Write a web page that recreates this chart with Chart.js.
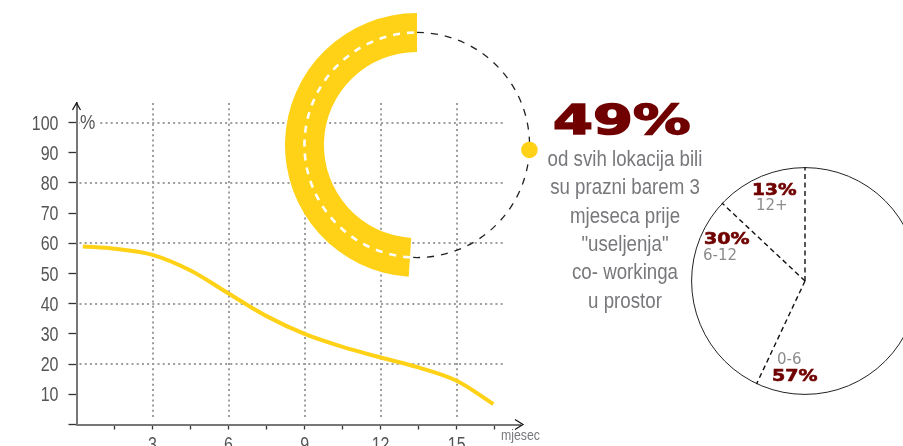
<!DOCTYPE html>
<html><head><meta charset="utf-8">
<script src="https://cdn.jsdelivr.net/npm/chart.js@4.4.1/dist/chart.umd.min.js"></script>
<style>
html,body{margin:0;padding:0;background:#fff;}
#wrap{position:relative;width:903px;height:446px;overflow:hidden;background:#fff;}
canvas{position:absolute;}
.t{position:absolute;white-space:nowrap;line-height:1;}
.narrow{font-family:"Liberation Sans",Arial,sans-serif;transform:scaleX(0.82);transform-origin:0 0;}
.big{font-family:"DejaVu Sans",sans-serif;font-weight:bold;color:#700000;transform-origin:0 0;}
.grey{font-family:"DejaVu Sans",sans-serif;color:#8c8c8c;}
#para{position:absolute;left:500px;width:250px;top:145.2px;text-align:center;font-family:"Liberation Sans",Arial,sans-serif;font-size:22px;line-height:28.3px;color:#77787b;white-space:nowrap;transform:scaleX(0.85);transform-origin:50% 0;}
</style></head><body>
<div id="wrap">
<canvas id="line" width="903" height="446" style="left:0;top:0"></canvas>
<canvas id="donut" width="264" height="264" style="left:285px;top:13px"></canvas>
<canvas id="pie" width="228" height="228" style="left:691px;top:167px"></canvas>
<div class="t narrow" style="left:80px;top:110.5px;font-size:21px;color:#555;background:#fff;padding-right:3px">%</div>
<div class="t narrow" style="left:501px;top:426.6px;font-size:15px;color:#77787b">mjesec</div>
<div class="t big" style="left:553px;top:100px;font-size:41px;transform:scaleX(1.4);-webkit-text-stroke:1.6px #700000">49%</div>
<div id="para">od svih lokacija bili<br>su prazni barem 3<br>mjeseca prije<br>"useljenja"<br>co- workinga<br>u prostor</div>
<div class="t big" style="left:752px;top:183px;font-size:15px;transform:scaleX(1.24);-webkit-text-stroke:0.6px #700000">13%</div>
<div class="t grey" style="left:756px;top:198.3px;font-size:15px">12+</div>
<div class="t big" style="left:704px;top:231.6px;font-size:15px;transform:scaleX(1.27);-webkit-text-stroke:0.6px #700000">30%</div>
<div class="t grey" style="left:703px;top:247.6px;font-size:15px">6-12</div>
<div class="t grey" style="left:777px;top:352.3px;font-size:15px">0-6</div>
<div class="t big" style="left:772px;top:369.3px;font-size:15px;transform:scaleX(1.27);-webkit-text-stroke:0.6px #700000">57%</div>
</div>
<script>
// ---- data ----
const months = [0.25, 1.5, 3, 4.5, 6, 7.5, 9, 10.5, 12, 13.5, 15, 16.45];
const emptyShare = [59, 58.2, 56.2, 51, 43.4, 35.9, 30, 25.7, 22.2, 18.9, 14.5, 6.8];
const yTickValues = [0, 10, 20, 30, 40, 50, 60, 70, 80, 90, 100];
const xTickValues = [1.5, 3, 4.5, 6, 7.5, 9, 10.5, 12, 13.5, 15, 16.5];
const xTickLabels = [3, 6, 9, 12, 15];
const gridYValues = [20, 40, 60, 80, 100];
const gridXValues = [3, 6, 9, 12, 15];
const donutLabels = ['ostalo', 'prazni barem 3 mjeseca'];
const donutShares = [51, 49];
const pieLabels = ['0-6', '6-12', '12+'];
const pieShares = [57, 30, 13];

const YELLOW = '#FFD117';
const LABEL_FONT = '19.5px "Liberation Sans", Arial, sans-serif';

const axisDecor = {
  id: 'axisDecor',
  beforeDatasetsDraw(chart) {
    const {ctx, scales: {x, y}, chartArea} = chart;
    ctx.save();
    ctx.strokeStyle = '#9d9d9d';
    ctx.lineWidth = 2;
    ctx.setLineDash([2, 3.2]);
    const xStart = chartArea.left + 3, xEnd = x.getPixelForValue(16.85);
    gridYValues.forEach(v => {
      const py = Math.round(y.getPixelForValue(v));
      ctx.beginPath(); ctx.moveTo(xStart, py); ctx.lineTo(xEnd, py); ctx.stroke();
    });
    const yTop = chartArea.top, yBot = y.getPixelForValue(2.3);
    gridXValues.forEach(v => {
      const px = Math.round(x.getPixelForValue(v));
      ctx.beginPath(); ctx.moveTo(px, yTop); ctx.lineTo(px, yBot); ctx.stroke();
    });
    ctx.restore();
  },
  afterDraw(chart) {
    const {ctx, scales: {x, y}, chartArea} = chart;
    ctx.save();
    ctx.strokeStyle = '#111';
    ctx.lineWidth = 1.2;
    const ax = chartArea.left, at = chartArea.top;
    ctx.beginPath(); ctx.moveTo(ax - 4, at + 7); ctx.lineTo(ax, at); ctx.lineTo(ax + 4, at + 7); ctx.stroke();
    const bx = chartArea.right + 3, by = chartArea.bottom;
    ctx.beginPath(); ctx.moveTo(bx - 8, by - 5); ctx.lineTo(bx, by); ctx.lineTo(bx - 8, by + 5); ctx.stroke();
    // tick labels (condensed)
    ctx.fillStyle = '#555';
    ctx.font = LABEL_FONT;
    ctx.textBaseline = 'alphabetic';
    yTickValues.filter(v => v > 0).forEach(v => {
      ctx.save();
      ctx.translate(chartArea.left - 18, y.getPixelForValue(v) + 7);
      ctx.scale(0.82, 1);
      ctx.textAlign = 'right';
      ctx.fillText(String(v), 0, 0);
      ctx.restore();
    });
    xTickLabels.forEach(v => {
      ctx.save();
      ctx.translate(x.getPixelForValue(v), chartArea.bottom + 26.5);
      ctx.scale(0.82, 1);
      ctx.textAlign = 'center';
      ctx.fillText(String(v), 0, 0);
      ctx.restore();
    });
    ctx.restore();
  }
};

new Chart(document.getElementById('line'), {
  type: 'line',
  data: {
    datasets: [{
      data: months.map((m, i) => ({x: m, y: emptyShare[i]})),
      borderColor: YELLOW,
      borderWidth: 4,
      pointRadius: 0,
      cubicInterpolationMode: 'monotone',
      fill: false
    }]
  },
  options: {
    responsive: false,
    animation: false,
    events: [],
    layout: {padding: {top: 103, right: 383, left: 0, bottom: 0}},
    plugins: {legend: {display: false}, tooltip: {enabled: false}},
    scales: {
      x: {
        type: 'linear', min: 0, max: 17.5,
        afterBuildTicks: s => { s.ticks = xTickValues.map(v => ({value: v})); },
        afterFit: s => { s.height = 21.5; },
        grid: {drawOnChartArea: false, drawTicks: true, tickLength: 5, tickColor: '#333', tickWidth: 1.3},
        border: {color: '#777', width: 2},
        ticks: {display: false}
      },
      y: {
        min: 0, max: 106.5,
        afterBuildTicks: s => { s.ticks = yTickValues.map(v => ({value: v})); },
        afterFit: s => { s.width = 76.5; },
        grid: {drawOnChartArea: false, drawTicks: true, tickLength: 8, tickColor: '#333', tickWidth: 1.3},
        border: {color: '#777', width: 2},
        ticks: {display: false}
      }
    }
  },
  plugins: [axisDecor]
});

const ringGuide = {
  id: 'ringGuide',
  afterDatasetsDraw(chart) {
    const {ctx} = chart;
    const arcs = chart.getDatasetMeta(0).data;
    const rest = arcs[0], hi = arcs[1];
    const cx = hi.x, cy = hi.y, r = (hi.innerRadius + hi.outerRadius) / 2;
    ctx.save();
    ctx.lineWidth = 1.3; ctx.strokeStyle = '#222'; ctx.setLineDash([7, 7]);
    ctx.beginPath(); ctx.arc(cx, cy, r, rest.startAngle, rest.endAngle); ctx.stroke();
    ctx.lineWidth = 2.6; ctx.strokeStyle = '#fff'; ctx.setLineDash([7, 7]);
    ctx.beginPath(); ctx.arc(cx, cy, r, hi.startAngle, hi.endAngle); ctx.stroke();
    const a = 0.044;
    ctx.setLineDash([]);
    ctx.fillStyle = YELLOW;
    ctx.beginPath(); ctx.arc(cx + Math.cos(a) * r, cy + Math.sin(a) * r, 8.3, 0, Math.PI * 2); ctx.fill();
    ctx.restore();
  }
};

new Chart(document.getElementById('donut'), {
  type: 'doughnut',
  data: {
    labels: donutLabels,
    datasets: [{data: donutShares, backgroundColor: ['rgba(0,0,0,0)', YELLOW], borderWidth: 0}]
  },
  options: {
    responsive: false, animation: false, events: [],
    cutout: '70.5%', rotation: 0,
    layout: {padding: 0},
    plugins: {legend: {display: false}, tooltip: {enabled: false}}
  },
  plugins: [ringGuide]
});

const pieOutline = {
  id: 'pieOutline',
  afterDatasetsDraw(chart) {
    const {ctx} = chart;
    const arcs = chart.getDatasetMeta(0).data;
    const cx = arcs[0].x, cy = arcs[0].y, r = arcs[0].outerRadius;
    ctx.save();
    ctx.strokeStyle = '#222'; ctx.lineWidth = 1;
    ctx.beginPath(); ctx.arc(cx, cy, r - 0.6, 0, Math.PI * 2); ctx.stroke();
    ctx.setLineDash([5, 3.5]); ctx.lineWidth = 1.4; ctx.strokeStyle = '#111';
    arcs.forEach(a => {
      ctx.beginPath(); ctx.moveTo(cx, cy);
      ctx.lineTo(cx + Math.cos(a.startAngle) * r, cy + Math.sin(a.startAngle) * r);
      ctx.stroke();
    });
    ctx.restore();
  }
};

new Chart(document.getElementById('pie'), {
  type: 'pie',
  data: {
    labels: pieLabels,
    datasets: [{data: pieShares, backgroundColor: 'rgba(255,255,255,0)', borderWidth: 0}]
  },
  options: {
    responsive: false, animation: false, events: [],
    layout: {padding: 0},
    plugins: {legend: {display: false}, tooltip: {enabled: false}}
  },
  plugins: [pieOutline]
});
</script>
</body></html>
